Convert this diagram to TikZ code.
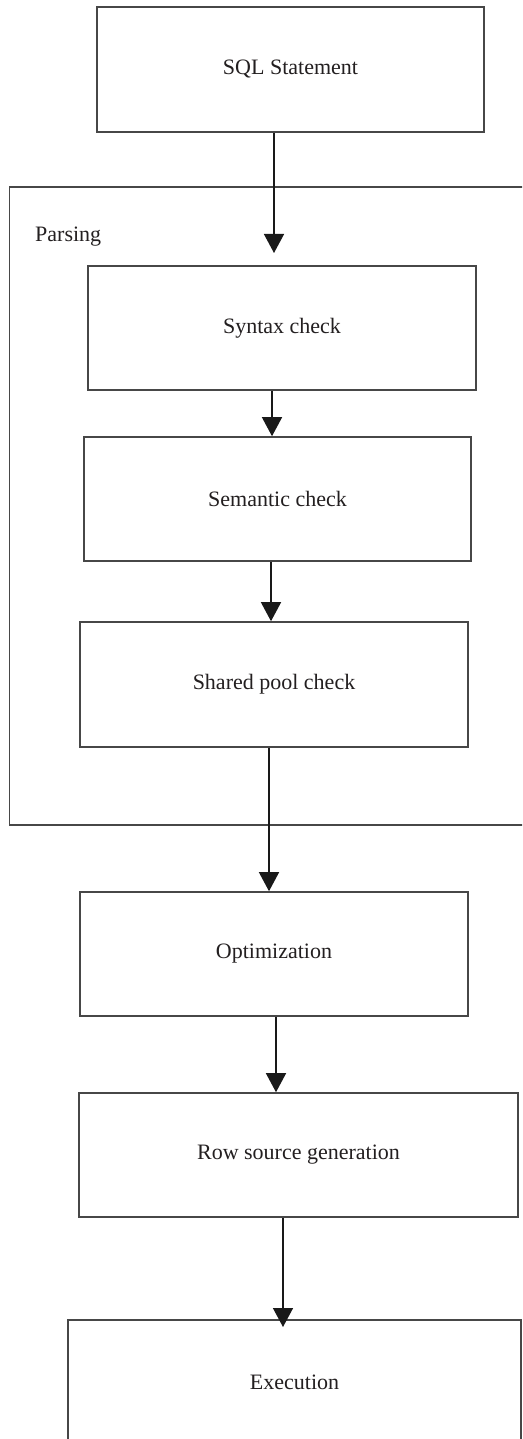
\documentclass[tikz,border=0pt]{standalone}
\usepackage{fontspec}
\setmainfont{Liberation Serif}
\usetikzlibrary{arrows.meta}

\definecolor{frameline}{HTML}{474747}
\definecolor{inktext}{HTML}{231F20}

\tikzset{
  stagebox/.style={draw=frameline, line width=1.6pt, rectangle, inner sep=0pt,
    font=\fontsize{22}{26}\selectfont, text=inktext},
  flow/.style={draw=black!90, line width=1.4pt,
    -{Triangle[width=20pt,length=19pt]}},
  groupframe/.style={draw=frameline, line width=1.6pt},
}

\begin{document}
\begin{tikzpicture}[x=1pt, y=-1pt]
  \useasboundingbox (0,0) rectangle (522,1439);
  \clip (0,0) rectangle (522,1439);
  \fill[white] (0,0) rectangle (522,1439);

  % Parsing group frame (runs past the right edge)
  \draw[groupframe] (545,187) -- (9.5,187) -- (9.5,825) -- (545,825);
  \node[anchor=base west, font=\fontsize{22}{26}\selectfont, text=inktext, inner sep=0pt]
    (parsing) at (35,242) {Parsing};

  % Stages
  \node[stagebox, minimum width=387pt, minimum height=125pt] (sql)  at (290.5,69.5) {SQL Statement};
  \node[stagebox, minimum width=388pt, minimum height=124pt] (syn)  at (282,328)    {Syntax check};
  \node[stagebox, minimum width=387pt, minimum height=124pt] (sem)  at (277.5,499)  {Semantic check};
  \node[stagebox, minimum width=388pt, minimum height=125pt] (pool) at (274,684.5)  {Shared pool check};
  \node[stagebox, minimum width=388pt, minimum height=124pt] (opt)  at (274,954)    {Optimization};
  \node[stagebox, minimum width=439pt, minimum height=124pt] (rsg)  at (298.5,1155) {Row source generation};
  \node[stagebox, minimum width=453pt, minimum height=124pt] (exe)  at (294.5,1382) {Execution};

  % Connector columns
  \coordinate (c1) at (274,0);
  \coordinate (c2) at (272,0);
  \coordinate (c3) at (271,0);
  \coordinate (c4) at (269,0);
  \coordinate (c5) at (276,0);
  \coordinate (c6) at (283,0);
  \coordinate (t1) at (274,253);
  \coordinate (t6) at (283,1327);

  % Connectors
  \draw[flow] (sql.south -| c1) -- (t1);
  \draw[flow] (syn.south -| c2) -- (sem.north -| c2);
  \draw[flow] (sem.south -| c3) -- (pool.north -| c3);
  \draw[flow] (pool.south -| c4) -- (opt.north -| c4);
  \draw[flow] (opt.south -| c5) -- (rsg.north -| c5);
  \draw[flow] (rsg.south -| c6) -- (t6);
\end{tikzpicture}
\end{document}
